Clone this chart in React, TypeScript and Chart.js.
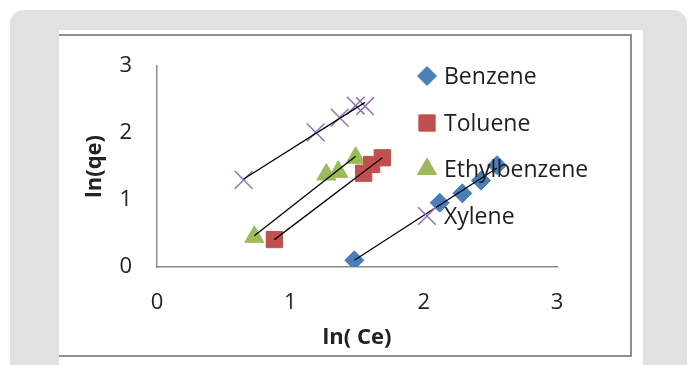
import React, { useEffect, useRef } from "react";
import { Chart, registerables } from "chart.js";
import { drawPoint } from "chart.js/helpers";

Chart.register(...registerables);

// Freundlich isotherm points: ln(Ce) vs ln(qe)
const benzeneX = [1.48, 2.12, 2.29, 2.43, 2.55];
const benzeneY = [0.1, 0.96, 1.1, 1.29, 1.52];
const tolueneX = [0.88, 1.55, 1.61, 1.69];
const tolueneY = [0.41, 1.4, 1.53, 1.63];
const ethylbenzeneX = [0.73, 1.27, 1.36, 1.49];
const ethylbenzeneY = [0.45, 1.38, 1.42, 1.63];
const xyleneX = [0.65, 1.19, 1.37, 1.49, 1.56];
const xyleneY = [1.3, 2.01, 2.23, 2.41, 2.4];

const seriesNames = ["Benzene", "Toluene", "Ethylbenzene", "Xylene"];
const xTicks = [0, 1, 2, 3];
const yTicks = [0, 1, 2, 3];

const FONT = "'Open Sans', 'DejaVu Sans', sans-serif";

const series = [
  { name: seriesNames[0], xs: benzeneX, ys: benzeneY, color: "#4a7ebb", style: "rectRot", radius: 9.5, bw: 1 },
  { name: seriesNames[1], xs: tolueneX, ys: tolueneY, color: "#c0504d", style: "rect", radius: 11.5, bw: 1 },
  { name: seriesNames[2], xs: ethylbenzeneX, ys: ethylbenzeneY, color: "#9bbb59", style: "triangle", radius: 11, bw: 1 },
  { name: seriesNames[3], xs: xyleneX, ys: xyleneY, color: "#8d72b5", style: "crossRot", radius: 12.5, bw: 1.5 },
];

// Least-squares trend line spanning the data range
function trend(xs: number[], ys: number[]) {
  const n = xs.length;
  const mx = xs.reduce((a, b) => a + b, 0) / n;
  const my = ys.reduce((a, b) => a + b, 0) / n;
  let sxy = 0;
  let sxx = 0;
  for (let i = 0; i < n; i++) {
    sxy += (xs[i] - mx) * (ys[i] - my);
    sxx += (xs[i] - mx) * (xs[i] - mx);
  }
  const k = sxy / sxx;
  const x0 = Math.min(...xs);
  const x1 = Math.max(...xs);
  return [
    { x: x0, y: my + k * (x0 - mx) },
    { x: x1, y: my + k * (x1 - mx) },
  ];
}

const legendPlugin = {
  id: "sideLegend",
  afterDraw(chart: any) {
    const ctx = chart.ctx;
    const markerX = 368;
    const textX = 385;
    const rows = [40, 87, 133, 180];
    ctx.save();
    series.forEach((s, i) => {
      ctx.fillStyle = s.color;
      ctx.strokeStyle = s.color;
      ctx.lineWidth = s.bw;
      drawPoint(ctx, { pointStyle: s.style, radius: s.radius, borderWidth: s.bw, rotation: 0 } as any, markerX, rows[i]);
      ctx.fillStyle = "#1e1e1e";
      ctx.font = `23px ${FONT}`;
      ctx.textAlign = "left";
      ctx.textBaseline = "middle";
      ctx.fillText(s.name, textX, rows[i] + 1);
    });
    ctx.restore();
  },
};

export default function App() {
  const ref = useRef<HTMLCanvasElement>(null);

  useEffect(() => {
    if (!ref.current) return;
    const datasets: any[] = [];
    series.forEach((s) => {
      datasets.push({
        type: "scatter",
        label: s.name,
        data: s.xs.map((x, i) => ({ x, y: s.ys[i] })),
        pointStyle: s.style,
        pointRadius: s.radius,
        pointBorderWidth: s.bw,
        backgroundColor: s.color,
        borderColor: s.color,
        showLine: false,
        order: 1,
      });
    });
    series.forEach((s) => {
      datasets.push({
        type: "line",
        label: s.name + " trend",
        data: trend(s.xs, s.ys),
        borderColor: "#000000",
        borderWidth: 1.3,
        pointRadius: 0,
        fill: false,
        order: 0,
      });
    });

    const chart = new Chart(ref.current, {
      type: "scatter",
      data: { datasets },
      options: {
        animation: false,
        responsive: false,
        devicePixelRatio: 1,
        layout: { padding: { left: 0, right: 73, top: 30, bottom: 0 } },
        plugins: {
          legend: { display: false },
          tooltip: { enabled: false },
        },
        scales: {
          x: {
            type: "linear",
            min: xTicks[0],
            max: xTicks[xTicks.length - 1],
            afterBuildTicks: (s: any) => {
              s.ticks = xTicks.map((v) => ({ value: v }));
            },
            afterFit: (s: any) => {
              s.height = 88;
              s.paddingLeft = 0;
              s.paddingRight = 0;
            },
            grid: { display: false, drawTicks: false },
            border: { display: true, color: "#8a8a8a", width: 1.5 },
            ticks: {
              padding: 23,
              color: "#222222",
              font: { family: FONT, size: 22, lineHeight: 1.2 },
            },
            title: {
              display: true,
              text: "ln( Ce)",
              color: "#222222",
              padding: { top: 0, bottom: 4 },
              font: { family: FONT, size: 22, weight: "bold", lineHeight: 1.2 },
            },
          },
          y: {
            type: "linear",
            min: yTicks[0],
            max: yTicks[yTicks.length - 1],
            afterBuildTicks: (s: any) => {
              s.ticks = yTicks.map((v) => ({ value: v }));
            },
            afterFit: (s: any) => {
              s.width = 98;
              s.paddingTop = 0;
              s.paddingBottom = 0;
            },
            grid: { display: false, drawTicks: false },
            border: { display: true, color: "#8a8a8a", width: 1.5 },
            ticks: {
              padding: 25,
              color: "#222222",
              font: { family: FONT, size: 22, lineHeight: 1.2 },
            },
            title: {
              display: true,
              text: "ln(qe)",
              color: "#222222",
              padding: { top: 23, bottom: 0 },
              font: { family: FONT, size: 22, weight: "bold", lineHeight: 1.2 },
            },
          },
        },
      },
      plugins: [legendPlugin],
    } as any);

    return () => chart.destroy();
  }, []);

  return (
    <div>
      <div
        style={{
          position: "absolute",
          left: 10,
          top: 10,
          width: 677,
          height: 420,
          background: "#e1e1e1",
          borderRadius: 14,
        }}
      />
      <div
        style={{
          position: "absolute",
          left: 59,
          top: 30,
          width: 584,
          height: 360,
          background: "#ffffff",
        }}
      />
      <div
        style={{
          position: "absolute",
          left: 59,
          top: 34,
          width: 571,
          height: 319,
          borderTop: "2px solid #8f8f8f",
          borderRight: "2px solid #8f8f8f",
          borderBottom: "2px solid #8f8f8f",
          background: "#ffffff",
        }}
      >
        <canvas ref={ref} width={571} height={319} style={{ display: "block", width: 571, height: 319 }} />
      </div>
    </div>
  );
}
